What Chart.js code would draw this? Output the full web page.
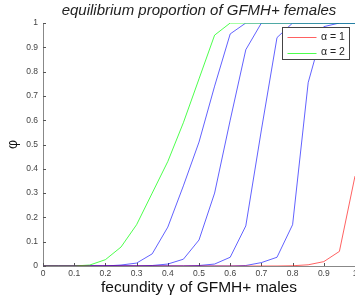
<!doctype html>
<html lang="en">
<head>
<meta charset="utf-8">
<title>equilibrium proportion of GFMH+ females</title>
<script src="https://cdn.jsdelivr.net/npm/chart.js"></script>
<style>
  html, body { margin: 0; padding: 0; background: #fff; }
  #wrap { width: 355px; height: 302px; position: relative; }
</style>
</head>
<body>
<div id="wrap"><canvas id="phiChart"></canvas></div>
<script>
// fecundity of GFMH+ males (x) and equilibrium proportion phi (y)
const gamma = [0, 0.05, 0.1, 0.15, 0.2, 0.25, 0.3, 0.35, 0.4, 0.45, 0.5,
               0.55, 0.6, 0.65, 0.7, 0.75, 0.8, 0.85, 0.9, 0.95, 1];

const phiAlpha1 = [0, 0, 0, 0, 0, 0, 0, 0, 0, 0, 0, 0, 0, 0, 0, 0, 0.001, 0.005, 0.018, 0.06, 0.37];
const phiAlpha2 = [0, 0, 0, 0.004, 0.026, 0.078, 0.17, 0.3, 0.43, 0.59, 0.77, 0.95, 1, 1, 1, 1, 1, 1, 1, 1, 1];
const phiBlueA  = [0, 0, 0, 0, 0, 0.004, 0.012, 0.05, 0.16, 0.33, 0.51, 0.74, 0.955, 1, 1, 1, 1, 1, 1, 1, 1];
const phiBlueB  = [0, 0, 0, 0, 0, 0, 0, 0.002, 0.008, 0.028, 0.107, 0.3, 0.6, 0.89, 1, 1, 1, 1, 1, 1, 1];
const phiBlueC  = [0, 0, 0, 0, 0, 0, 0, 0, 0, 0, 0.002, 0.008, 0.036, 0.165, 0.56, 0.94, 1, 1, 1, 1, 1];
const phiBlueD  = [0, 0, 0, 0, 0, 0, 0, 0, 0, 0, 0, 0, 0, 0.002, 0.014, 0.036, 0.17, 0.755, 0.985, 1, 1];

const FONT = "'Liberation Sans', Arial, sans-serif";

function toPoints(ys) {
  return gamma.map((g, i) => ({ x: g, y: ys[i] }));
}

function line(label, ys, color) {
  return {
    label: label,
    data: toPoints(ys),
    borderColor: color,
    backgroundColor: color,
    borderWidth: 1,
    pointRadius: 0,
    tension: 0,
    fill: false
  };
}

// "0", "0.1", ... "1" like matlab
const tickText = v => String(Math.round(v * 10) / 10);

// centre the title over the plot area instead of the whole canvas
const titleOverPlot = {
  id: 'titleOverPlot',
  afterLayout(chart) {
    if (chart.titleBlock) {
      chart.titleBlock.left = chart.chartArea.left;
      chart.titleBlock.right = chart.chartArea.right;
    }
  }
};

// matlab style ticks, pointing into the plot
const innerTicks = {
  id: 'innerTicks',
  beforeDatasetsDraw(chart) {
    const { ctx, chartArea, scales } = chart;
    ctx.save();
    ctx.strokeStyle = '#555';
    ctx.lineWidth = 1;
    ctx.beginPath();
    scales.x.ticks.forEach(t => {
      const px = Math.round(scales.x.getPixelForValue(t.value)) + 0.5;
      ctx.moveTo(px, chartArea.bottom);
      ctx.lineTo(px, chartArea.bottom - 3);
    });
    scales.y.ticks.forEach(t => {
      const py = Math.round(scales.y.getPixelForValue(t.value)) + 0.5;
      ctx.moveTo(chartArea.left, py);
      ctx.lineTo(chartArea.left + 3, py);
    });
    ctx.stroke();
    ctx.restore();
  }
};

// boxed legend in the top right corner, only for labelled series
const boxLegend = {
  id: 'boxLegend',
  afterDatasetsDraw(chart) {
    const { ctx, chartArea } = chart;
    const items = chart.data.datasets.filter(d => d.label);
    const x0 = chartArea.right - 72.5, y0 = chartArea.top + 4.5;
    const w = 67, h = 32;
    ctx.save();
    ctx.fillStyle = '#fff';
    ctx.fillRect(x0, y0, w, h);
    ctx.strokeStyle = '#444';
    ctx.lineWidth = 1;
    ctx.strokeRect(x0, y0, w, h);
    ctx.font = '10.5px ' + FONT;
    ctx.textBaseline = 'middle';
    items.forEach((d, i) => {
      const yy = y0 + 9.5 + i * 15.5;
      ctx.strokeStyle = d.borderColor;
      ctx.beginPath();
      ctx.moveTo(x0 + 5, Math.round(yy) + 0.5);
      ctx.lineTo(x0 + 34, Math.round(yy) + 0.5);
      ctx.stroke();
      ctx.fillStyle = '#222';
      ctx.fillText(d.label, x0 + 38.5, yy);
    });
    ctx.restore();
  }
};

new Chart(document.getElementById('phiChart'), {
  type: 'line',
  data: {
    datasets: [
      line('α = 1', phiAlpha1, 'rgba(255,0,0,0.62)'),
      line('α = 2', phiAlpha2, 'rgba(0,255,0,0.7)'),
      line('', phiBlueA, 'rgba(0,0,255,0.62)'),
      line('', phiBlueB, 'rgba(0,0,255,0.62)'),
      line('', phiBlueC, 'rgba(0,0,255,0.62)'),
      line('', phiBlueD, 'rgba(0,0,255,0.62)')
    ]
  },
  options: {
    responsive: true,
    maintainAspectRatio: false,
    animation: false,
    layout: { padding: { top: 0, right: 0, bottom: 0, left: 0 } },
    plugins: {
      legend: { display: false },
      tooltip: { enabled: false },
      title: {
        display: true,
        text: 'equilibrium proportion of GFMH+ females',
        color: '#222',
        font: { family: FONT, size: 15, style: 'italic', weight: 'normal' },
        padding: { top: 2, bottom: 3 }
      }
    },
    scales: {
      x: {
        type: 'linear',
        min: 0,
        max: 1,
        grid: { drawOnChartArea: false, drawTicks: false },
        border: { display: true, color: '#888' },
        ticks: { stepSize: 0.1, padding: 3, color: '#444', font: { family: FONT, size: 8.5 }, maxRotation: 0, callback: tickText },
        title: {
          display: true,
          text: 'fecundity γ of GFMH+ males',
          color: '#111',
          font: { family: FONT, size: 15.5 },
          padding: { top: 0, bottom: 5 }
        },
        afterFit(scale) {
          scale.height = 36;
          scale.paddingLeft = 0;
          scale.paddingRight = 0;
        }
      },
      y: {
        min: 0,
        max: 1,
        grid: { drawOnChartArea: false, drawTicks: false },
        border: { display: true, color: '#888' },
        ticks: { stepSize: 0.1, padding: 5, color: '#444', font: { family: FONT, size: 8.5 }, callback: tickText },
        title: {
          display: true,
          text: 'φ',
          color: '#111',
          font: { family: FONT, size: 14 },
          padding: { top: 5, bottom: 0 }
        },
        afterFit(scale) {
          scale.width = 43;
          scale.paddingTop = 0;
          scale.paddingBottom = 0;
        }
      }
    }
  },
  plugins: [titleOverPlot, innerTicks, boxLegend]
});
</script>
</body>
</html>
